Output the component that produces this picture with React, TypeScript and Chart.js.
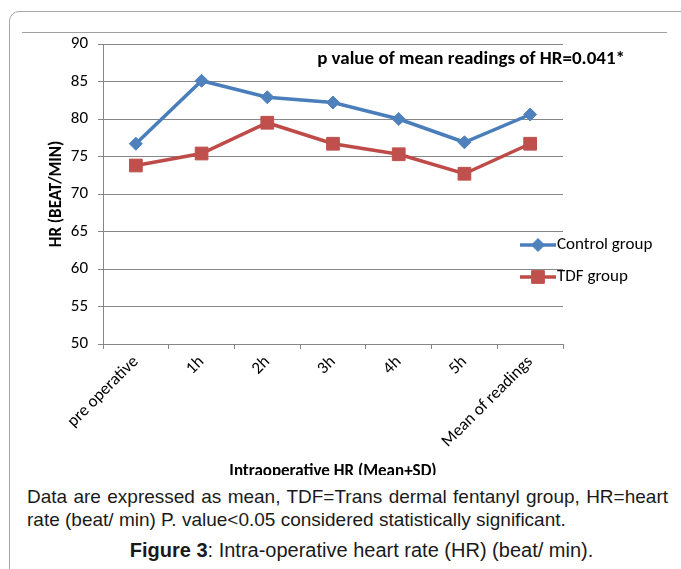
import React, { useEffect, useRef } from "react";
import { Chart, registerables } from "chart.js";
import { drawPoint } from "chart.js/helpers";

Chart.register(...registerables);

const categories = ["pre operative", "1h", "2h", "3h", "4h", "5h", "Mean of readings"];
const controlValues = [76.7, 85.1, 82.9, 82.2, 80.0, 76.9, 80.6];
const tdfValues = [73.8, 75.4, 79.5, 76.7, 75.3, 72.7, 76.7];
const seriesNames = ["Control group", "TDF group"];
const yMin = 50;
const yMax = 90;
const yStep = 5;

const chartFont = "Carlito, Lato, 'Open Sans', sans-serif";
const captionFont = "'Liberation Sans', Arial, sans-serif";

const sideLegend = {
  id: "sideLegend",
  afterDraw(chart: any) {
    const ctx = chart.ctx;
    const area = chart.chartArea;
    const x0 = area.right - 43;
    const x1 = area.right - 7;
    chart.data.datasets.forEach((ds: any, i: number) => {
      const y = area.top + 201 + i * 32;
      ctx.save();
      ctx.strokeStyle = ds.borderColor;
      ctx.lineWidth = ds.borderWidth;
      ctx.beginPath();
      ctx.moveTo(x0, y);
      ctx.lineTo(x1, y);
      ctx.stroke();
      ctx.fillStyle = ds.pointBackgroundColor;
      ctx.strokeStyle = ds.pointBorderColor;
      ctx.lineWidth = 1;
      drawPoint(ctx, { pointStyle: ds.pointStyle, radius: ds.pointRadius, rotation: 0, borderWidth: 1 } as any, (x0 + x1) / 2, y);
      ctx.fillStyle = "#000";
      ctx.font = `17px ${chartFont}`;
      ctx.textBaseline = "middle";
      ctx.textAlign = "left";
      ctx.fillText(ds.label, x1 + 1, y);
      ctx.restore();
    });
  },
};

export default function App() {
  const ref = useRef<HTMLCanvasElement | null>(null);

  useEffect(() => {
    if (!ref.current) return;
    const chart = new Chart(ref.current, {
      type: "line",
      data: {
        labels: categories,
        datasets: [
          {
            label: seriesNames[0],
            data: controlValues,
            borderColor: "#4A7EBB",
            borderWidth: 3.5,
            pointStyle: "rectRot",
            pointRadius: 6.5,
            pointBackgroundColor: "#4F81BD",
            pointBorderColor: "#4F81BD",
            pointBorderWidth: 1,
            tension: 0,
          },
          {
            label: seriesNames[1],
            data: tdfValues,
            borderColor: "#BE4B48",
            borderWidth: 3.5,
            pointStyle: "rect",
            pointRadius: 9,
            pointBackgroundColor: "#C0504D",
            pointBorderColor: "#C0504D",
            pointBorderWidth: 1,
            tension: 0,
          },
        ],
      },
      options: {
        responsive: false,
        animation: false,
        layout: { padding: { left: 43, right: 118, top: 44, bottom: 0 } },
        plugins: {
          legend: { display: false },
          tooltip: { enabled: false },
          title: { display: false },
        },
        scales: {
          x: {
            type: "category",
            offset: true,
            afterFit: (s: any) => {
              s.height = 142;
            },
            grid: {
              display: true,
              drawOnChartArea: false,
              drawTicks: true,
              tickLength: 5,
              color: "#868686",
              offset: true,
            },
            border: { display: true, color: "#868686", width: 1 },
            ticks: {
              autoSkip: false,
              maxRotation: 45,
              minRotation: 45,
              color: "#000",
              padding: 3,
              font: { family: chartFont, size: 17 },
            },
            title: {
              display: true,
              text: "Intraoperative HR (Mean+SD)",
              color: "#000",
              font: { family: chartFont, size: 17, weight: "bold" },
            },
          },
          y: {
            min: yMin,
            max: yMax,
            afterFit: (s: any) => {
              s.width = 60;
            },
            grid: {
              color: "#868686",
              tickLength: 5,
            },
            border: { display: true, color: "#868686", width: 1 },
            ticks: {
              stepSize: yStep,
              color: "#000",
              padding: 10,
              font: { family: chartFont, size: 17 },
            },
            title: {
              display: true,
              text: "HR (BEAT/MIN)",
              color: "#000",
              font: { family: chartFont, size: 17, weight: "bold" },
            },
          },
        },
      },
      plugins: [sideLegend],
    });
    return () => chart.destroy();
  }, []);

  return (
    <div style={{ position: "absolute", left: 0, top: 0, width: 681, height: 569, overflow: "hidden", background: "#fff" }}>
      <div
        style={{
          position: "absolute",
          left: 9,
          top: 11,
          width: 800,
          height: 700,
          border: "1px solid #a6a6a6",
          borderRadius: 10,
        }}
      />
      <div style={{ position: "absolute", left: 22, top: 32, width: 645, height: 0, borderTop: "1px solid #a0a0a0" }} />
      <div style={{ position: "absolute", left: 0, top: 0, width: 681, height: 475, overflow: "hidden" }}>
        <canvas ref={ref} width={681} height={486} style={{ display: "block" }} />
      </div>
      <div
        style={{
          position: "absolute",
          right: 56,
          top: 47,
          whiteSpace: "nowrap",
          fontFamily: chartFont,
          fontWeight: "bold",
          fontSize: 19,
          lineHeight: "22px",
          color: "#000",
        }}
      >
        p value of mean readings of HR=0.041*
      </div>
      <div
        style={{
          position: "absolute",
          left: 27,
          top: 486,
          width: 641,
          fontFamily: captionFont,
          fontSize: 19,
          lineHeight: "22px",
          color: "#1a1a1a",
          textAlign: "justify",
          textAlignLast: "justify",
          whiteSpace: "nowrap",
        }}
      >
        Data are expressed as mean, TDF=Trans dermal fentanyl group, HR=heart
      </div>
      <div
        style={{
          position: "absolute",
          left: 27,
          top: 509,
          whiteSpace: "nowrap",
          fontFamily: captionFont,
          fontSize: 19,
          lineHeight: "22px",
          color: "#1a1a1a",
        }}
      >
        rate (beat/ min) P. value&lt;0.05 considered statistically significant.
      </div>
      <div
        style={{
          position: "absolute",
          left: 0,
          top: 539,
          width: 723,
          textAlign: "center",
          whiteSpace: "nowrap",
          fontFamily: captionFont,
          fontSize: 20,
          lineHeight: "22px",
          color: "#1a1a1a",
        }}
      >
        <b>Figure 3</b>: Intra-operative heart rate (HR) (beat/ min).
      </div>
    </div>
  );
}
